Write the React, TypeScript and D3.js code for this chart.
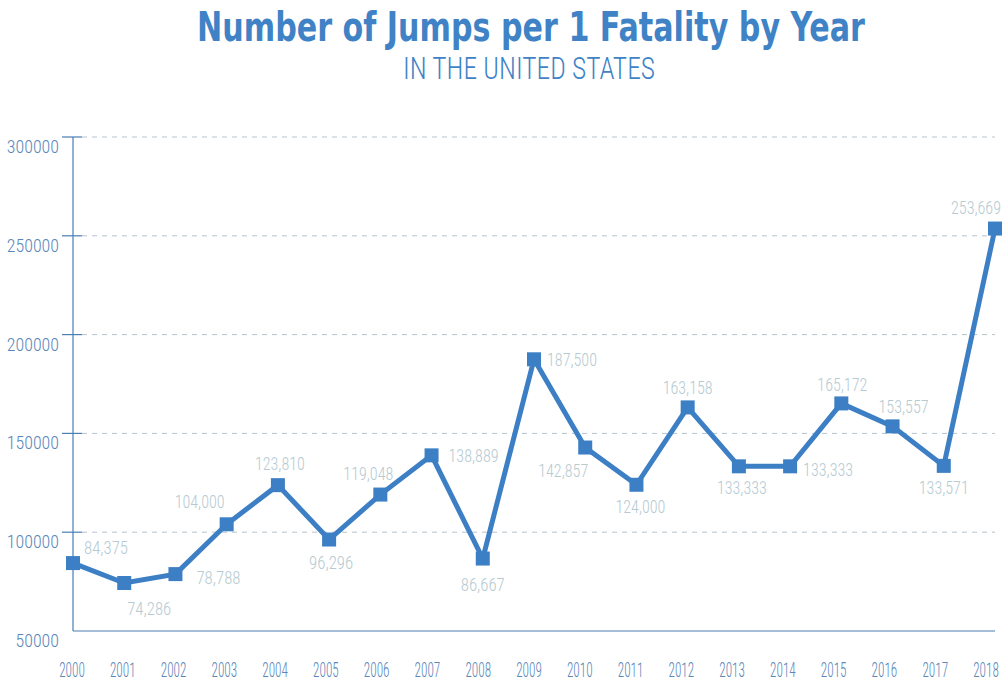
import React from "react";
import * as d3 from "d3";

const YEARS = [2000, 2001, 2002, 2003, 2004, 2005, 2006, 2007, 2008, 2009, 2010, 2011, 2012, 2013, 2014, 2015, 2016, 2017, 2018];
const JUMPS_PER_FATALITY = [84375, 74286, 78788, 104000, 123810, 96296, 119048, 138889, 86667, 187500, 142857, 124000, 163158, 133333, 133333, 165172, 153557, 133571, 253669];
const Y_TICKS = [50000, 100000, 150000, 200000, 250000, 300000];
// label placement relative to point: [dx of label center, dy of baseline]
const LABEL_OFFSETS: [number, number][] = [
  [33, -9], [25, 32], [43, 10], [-27, -16], [2, -15], [2, 29], [-12, -15], [42, 7], [0, 32], [38, 7],
  [-22, 29], [4, 28], [0, -13], [3, 28], [38, 10], [1, -12], [11, -13], [0, 28], [-19, -15],
];

const TITLE = "Number of Jumps per 1 Fatality by Year";
const SUBTITLE = "IN THE UNITED STATES";

const W = 1008;
const H = 682;
const LEFT = 73;
const RIGHT = 995;
const TOP = 137;
const BOTTOM = 631;

const COND = "'Roboto Condensed', 'DejaVu Sans Condensed', 'Liberation Sans Narrow', 'Open Sans', sans-serif";

export default function App() {
  const x = d3.scaleLinear().domain([0, YEARS.length - 1]).range([LEFT, RIGHT]);
  const xLab = d3.scaleLinear().domain([0, YEARS.length - 1]).range([72, 986]);
  const y = d3.scaleLinear().domain([50000, 300000]).range([BOTTOM, TOP]);
  const line = d3
    .line<number>()
    .x((_, i) => x(i))
    .y((d) => y(d));
  const fmt = d3.format(",");

  return (
    <svg width={W} height={H} style={{ position: "fixed", left: 0, top: 0, background: "#fff" }}>
      <text
        x={531}
        y={41}
        textAnchor="middle"
        fontFamily="'DejaVu Sans Condensed', 'Roboto', sans-serif"
        fontWeight="bold"
        fontSize={40}
        fill="#3F83C6"
        textLength={668}
        lengthAdjust="spacingAndGlyphs"
      >
        {TITLE}
      </text>
      <text
        x={529}
        y={79}
        textAnchor="middle"
        fontFamily={COND}
        fontWeight={300}
        fontSize={32}
        fill="#3F83C6"
        textLength={252}
        lengthAdjust="spacingAndGlyphs"
      >
        {SUBTITLE}
      </text>

      {/* gridlines */}
      {Y_TICKS.filter((t) => t > 50000).map((t) => (
        <line key={"g" + t} x1={LEFT + 9} x2={RIGHT} y1={y(t)} y2={y(t)} stroke="#B7C3CB" strokeWidth={1} strokeDasharray="5,5" />
      ))}
      {/* tick marks */}
      {Y_TICKS.filter((t) => t > 50000).map((t) => (
        <line key={"t" + t} x1={LEFT - 11} x2={LEFT + 9} y1={y(t)} y2={y(t)} stroke="#4A7EB5" strokeWidth={1.2} />
      ))}
      {/* axes */}
      <line x1={LEFT} x2={LEFT} y1={TOP} y2={BOTTOM} stroke="#4A7EB5" strokeWidth={1.2} />
      <line x1={LEFT} x2={RIGHT} y1={BOTTOM} y2={BOTTOM} stroke="#4A7EB5" strokeWidth={1.2} />

      {/* y labels */}
      {Y_TICKS.map((t) => (
        <text
          key={"yl" + t}
          x={59}
          y={y(t) + 16}
          textAnchor="end"
          fontFamily={COND}
          fontWeight={300}
          fontSize={18}
          fill="#5A86B8"
          textLength={String(t).length * 8.7}
          lengthAdjust="spacingAndGlyphs"
        >
          {t}
        </text>
      ))}
      {/* x labels */}
      {YEARS.map((yr, i) => (
        <text
          key={"xl" + yr}
          transform={`translate(${xLab(i)},677) scale(0.66,1)`}
          textAnchor="middle"
          fontFamily={COND}
          fontWeight={300}
          fontSize={20}
          fill="#5A86B8"
        >
          {yr}
        </text>
      ))}

      {/* line */}
      <path d={line(JUMPS_PER_FATALITY) || ""} fill="none" stroke="#3D7FC4" strokeWidth={5} strokeLinejoin="miter" />
      {JUMPS_PER_FATALITY.map((v, i) => (
        <rect key={"m" + i} x={x(i) - 7} y={y(v) - 7} width={14} height={14} fill="#3D7FC4" />
      ))}

      {/* value labels */}
      {JUMPS_PER_FATALITY.map((v, i) => {
        const s = fmt(v);
        return (
          <text
            key={"vl" + i}
            x={x(i) + LABEL_OFFSETS[i][0]}
            y={y(v) + LABEL_OFFSETS[i][1]}
            textAnchor="middle"
            fontFamily={COND}
            fontWeight={300}
            fontSize={18}
            fill="#B6CAD2"
            textLength={s.length === 6 ? 44 : 50}
            lengthAdjust="spacingAndGlyphs"
          >
            {s}
          </text>
        );
      })}
    </svg>
  );
}
